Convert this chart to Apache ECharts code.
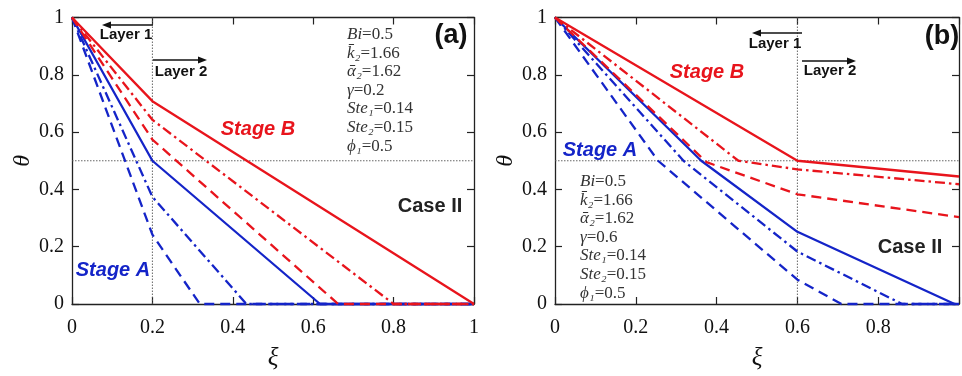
<!DOCTYPE html>
<html><head><meta charset="utf-8">
<script src="https://cdn.jsdelivr.net/npm/echarts@6/dist/echarts.min.js"></script>
<style>html,body{margin:0;padding:0;background:#fff}#c{width:962px;height:376px}</style>
</head><body><div id="c"></div>
<script>
// ---- data: panel (a), gamma = 0.2 ----
const aRedSolid    = [[0,1],[0.2,0.708],[1,0]];
const aRedDashDot  = [[0,1],[0.2,0.643],[0.8,0],[1,0]];
const aRedDashed   = [[0,1],[0.2,0.574],[0.662,0],[1,0]];
const aBlueSolid   = [[0,1],[0.2,0.5],[0.617,0],[1,0]];
const aBlueDashDot = [[0,1],[0.2,0.374],[0.434,0],[1,0]];
const aBlueDashed  = [[0,1],[0.2,0.242],[0.318,0],[1,0]];
// ---- data: panel (b), gamma = 0.6 ----
const bRedSolid    = [[0,1],[0.6,0.5],[1,0.445]];
const bRedDashDot  = [[0,1],[0.454,0.5],[0.6,0.47],[1,0.418]];
const bRedDashed   = [[0,1],[0.375,0.495],[0.6,0.383],[1,0.303]];
const bBlueSolid   = [[0,1],[0.362,0.5],[0.6,0.252],[0.989,0],[1,0]];
const bBlueDashDot = [[0,1],[0.318,0.5],[0.6,0.183],[0.859,0],[1,0]];
const bBlueDashed  = [[0,1],[0.255,0.5],[0.6,0.085],[0.709,0],[1,0]];
// reference lines
const interfaceA = 0.2, interfaceB = 0.6, thetaRef = 0.5;
const paramsA = [['Bi','=0.5'],['k\u0304\u2082','=1.66'],['\u03B1\u0304\u2082','=1.62'],['\u03B3','=0.2'],['Ste\u2081','=0.14'],['Ste\u2082','=0.15'],['\u03D5\u2081','=0.5']];
const paramsB = [['Bi','=0.5'],['k\u0304\u2082','=1.66'],['\u03B1\u0304\u2082','=1.62'],['\u03B3','=0.6'],['Ste\u2081','=0.14'],['Ste\u2082','=0.15'],['\u03D5\u2081','=0.5']];

const RED = '#e8141c', BLUE = '#1424c8';
const DASH = [10,6], DASHDOT = [10,4,2.5,4];
const chart = echarts.init(document.getElementById('c'), null, {renderer:'canvas'});

const serif = 'Liberation Serif, DejaVu Serif, serif';
const sans = 'Liberation Sans, Arial, sans-serif';

function xAx(gi, hideOne, withName) {
  return {
    gridIndex: gi, type:'value', min:0, max:1, interval:0.2,
    axisLine:{show:true, onZero:false, lineStyle:{color:'#222', width:1.3}},
    axisTick:{show:true, inside:true, length:7, lineStyle:{color:'#222', width:1.2}},
    axisLabel:{show:withName, margin:14, fontFamily:serif, fontSize:20, color:'#111',
      formatter: v => (hideOne && Math.abs(v-1)<1e-9) ? '' : String(+v.toFixed(1))},
    splitLine:{show:false},
    name: withName ? '\u03BE' : '', nameLocation:'middle', nameGap:42,
    nameTextStyle:{fontFamily:serif, fontStyle:'italic', fontSize:25, color:'#111'},
    position: withName ? 'bottom' : 'top'
  };
}
function yAx(gi, withName) {
  return {
    gridIndex: gi, type:'value', min:0, max:1, interval:0.2,
    axisLine:{show:true, onZero:false, lineStyle:{color:'#222', width:1.3}},
    axisTick:{show:true, inside:true, length:7, lineStyle:{color:'#222', width:1.2}},
    axisLabel:{show:withName, margin:8, fontFamily:serif, fontSize:20, color:'#111',
      formatter: v => String(+v.toFixed(1))},
    splitLine:{show:false},
    name: withName ? '\u03B8' : '', nameLocation:'middle', nameGap:37, nameRotate:90,
    nameTextStyle:{fontFamily:serif, fontStyle:'italic', fontSize:24, color:'#111'},
    position: withName ? 'left' : 'right'
  };
}
function ln(name, data, color, type, xi, yi) {
  return {name, type:'line', data, xAxisIndex:xi, yAxisIndex:yi, symbol:'none', clip:false,
    lineStyle:{color, width:2.3, type}, z:3, animation:false};
}
function refLine(data, xi, yi) {
  return {type:'line', data, xAxisIndex:xi, yAxisIndex:yi, symbol:'none', silent:true,
    lineStyle:{color:'#555', width:0.9, type:[1.5,1.5]}, z:2, animation:false};
}
function params(list, left, top) {
  const text = list.map(p => '{i|' + p[0] + '}{n|' + p[1] + '}').join('\n');
  return {type:'text', left, top, z:10, style:{text, fill:'#333',
    rich:{i:{fontFamily:serif, fontStyle:'italic', fontSize:17, lineHeight:18.6, fill:'#333'},
          n:{fontFamily:serif, fontSize:17, lineHeight:18.6, fill:'#333'}}}};
}
function label(text, x, y, color, size, italic) {
  return {type:'text', x, y, z:10, style:{text, fill:color, fontFamily:sans, fontWeight:'bold',
    fontStyle: italic ? 'italic' : 'normal', fontSize:size, align:'center', verticalAlign:'middle'}};
}
function arrow(x1, x2, y) {
  const dir = x2 > x1 ? 1 : -1;
  return [
    {type:'line', z:10, shape:{x1, y1:y, x2:x2 - dir*6, y2:y}, style:{stroke:'#111', lineWidth:1.6}},
    {type:'polygon', z:10, shape:{points:[[x2,y],[x2-dir*9,y-3.5],[x2-dir*9,y+3.5]]}, style:{fill:'#111'}}
  ];
}

chart.setOption({
  animation:false,
  backgroundColor:'#fff',
  grid:[
    {left:72, top:17.5, width:402, height:291.5, show:false},
    {left:555, top:17.5, width:411, height:298.5, show:false}
  ],
  xAxis:[xAx(0,false,true), xAx(0,false,false), xAx(1,true,true), xAx(1,true,false)],
  yAxis:[yAx(0,true), yAx(0,false), yAx(1,true), yAx(1,false)],
  series:[
    refLine([[interfaceA,0],[interfaceA,1]],0,0),
    refLine([[0,thetaRef],[1,thetaRef]],0,0),
    refLine([[interfaceB,0],[interfaceB,1]],2,2),
    refLine([[0,thetaRef],[1,thetaRef]],2,2),
    ln('a-blue-solid', aBlueSolid, BLUE, 'solid', 0,0),
    ln('a-blue-dashdot', aBlueDashDot, BLUE, DASHDOT, 0,0),
    ln('a-blue-dashed', aBlueDashed, BLUE, DASH, 0,0),
    ln('a-red-solid', aRedSolid, RED, 'solid', 0,0),
    ln('a-red-dashdot', aRedDashDot, RED, DASHDOT, 0,0),
    ln('a-red-dashed', aRedDashed, RED, DASH, 0,0),
    ln('b-blue-solid', bBlueSolid, BLUE, 'solid', 2,2),
    ln('b-blue-dashdot', bBlueDashDot, BLUE, DASHDOT, 2,2),
    ln('b-blue-dashed', bBlueDashed, BLUE, DASH, 2,2),
    ln('b-red-solid', bRedSolid, RED, 'solid', 2,2),
    ln('b-red-dashdot', bRedDashDot, RED, DASHDOT, 2,2),
    ln('b-red-dashed', bRedDashed, RED, DASH, 2,2)
  ],
  graphic:[
    params(paramsA, 347, 26),
    params(paramsB, 580, 173),
    label('(a)', 451, 36, '#111', 27, false),
    label('(b)', 942, 37, '#111', 27, false),
    label('Stage B', 258, 129, RED, 20, true),
    label('Stage A', 113, 270, BLUE, 20, true),
    label('Case II', 430, 206, '#222', 20, false),
    label('Stage B', 707, 72, RED, 20, true),
    label('Stage A', 600, 150, BLUE, 20, true),
    label('Case II', 910, 247, '#222', 20, false),
    label('Layer 1', 126, 35, '#111', 15, false),
    label('Layer 2', 181, 72, '#111', 15, false),
    label('Layer 1', 775, 44, '#111', 15, false),
    label('Layer 2', 830, 71, '#111', 15, false),
    ...arrow(153, 102, 25),
    ...arrow(153, 207, 60),
    ...arrow(802, 752, 33),
    ...arrow(802, 856, 61)
  ]
});
</script></body></html>
